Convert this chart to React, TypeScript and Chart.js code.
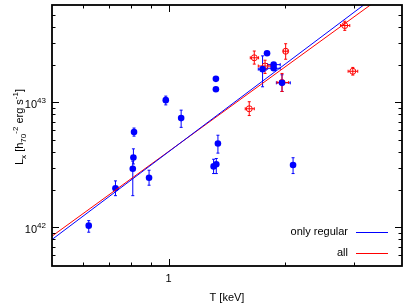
import { useEffect, useRef } from "react";
import { Chart, registerables } from "chart.js";

Chart.register(...registerables);

const FONT = '"Liberation Sans", Arial, Helvetica, sans-serif';

// "only regular" sample (blue)
const blueT = [0.622, 0.729, 0.814, 0.811, 0.808, 0.89, 0.983, 1.077, 1.324, 1.324, 1.34, 1.327, 1.306, 2.094, 1.794, 1.747, 1.866, 1.866, 1.961];
const blueTlo = [0.622, 0.72, 0.814, 0.811, 0.808, 0.89, 0.983, 1.077, 1.324, 1.324, 1.34, 1.327, 1.306, 2.07, 1.794, 1.703, 1.8, 1.8, 1.896];
const blueThi = [0.622, 0.74, 0.814, 0.811, 0.808, 0.89, 0.983, 1.077, 1.324, 1.324, 1.34, 1.327, 1.306, 2.12, 1.794, 1.786, 1.94, 1.94, 2.06];
const blueL = [1.03e42, 2.05e42, 5.78e42, 3.62e42, 2.94e42, 2.49e42, 1.04e43, 7.47e42, 1.54e43, 1.27e43, 4.68e42, 3.19e42, 3.07e42, 3.15e42, 2.47e43, 1.84e43, 2.0e43, 1.87e43, 1.43e43];
const blueLlo = [9.13e41, 1.79e42, 5.36e42, 3.21e42, 1.79e42, 2.17e42, 9.53e42, 6.3e42, 1.49e43, 1.23e43, 3.92e42, 2.69e42, 2.69e42, 2.69e42, 2.4e43, 1.33e43, 1.93e43, 1.8e43, 1.22e43];
const blueLhi = [1.13e42, 2.35e42, 6.22e42, 4.24e42, 3.38e42, 2.86e42, 1.12e43, 8.65e42, 1.59e43, 1.31e43, 5.45e42, 3.55e42, 3.5e42, 3.6e42, 2.54e43, 2.35e43, 2.07e43, 1.94e43, 1.66e43];

// other (red) objects
const redT = [1.663, 1.773, 2.004, 1.961, 1.614, 2.847, 2.986];
const redTlo = [1.624, 1.703, 1.98, 1.904, 1.576, 2.775, 2.904];
const redThi = [1.706, 1.829, 2.03, 2.04, 1.663, 2.933, 3.075];
const redL = [2.27e43, 1.95e43, 2.56e43, 1.44e43, 8.87e42, 4.11e43, 1.77e43];
const redLlo = [2.02e43, 1.7e43, 2.21e43, 1.22e43, 7.83e42, 3.76e43, 1.65e43];
const redLhi = [2.57e43, 2.17e43, 2.94e43, 1.7e43, 1.01e43, 4.45e43, 1.9e43];

// fitted relations (end points)
const fitT = [0.5, 4];
const regularFitL = [7.98e41, 1.02e44];
const allFitL = [8.49e41, 9.16e43];

// ticks
const xMajorTicks = [1];
const xMinorTicks = [0.6, 0.7, 0.8, 0.9, 2, 3];
const yMajorTicks = [1e42, 1e43];
const yMajorExp = ["42", "43"];
const yMinorTicks = [6e41, 7e41, 8e41, 9e41, 2e42, 3e42, 4e42, 5e42, 6e42, 7e42, 8e42, 9e42, 2e43, 3e43, 4e43, 5e43];

const legendLabels = ["only regular", "all"];
const legendColors = ["#0000ff", "#ff0000"];

function drawErrorBars(ctx: CanvasRenderingContext2D, xs: any, ys: any, T: number[], Tlo: number[], Thi: number[], L: number[], Llo: number[], Lhi: number[], color: string) {
  ctx.strokeStyle = color;
  ctx.lineWidth = 1;
  const cap = 1.5;
  for (let i = 0; i < T.length; i++) {
    const px = xs.getPixelForValue(T[i]);
    const py = ys.getPixelForValue(L[i]);
    const y1 = ys.getPixelForValue(Llo[i]);
    const y2 = ys.getPixelForValue(Lhi[i]);
    const x1 = xs.getPixelForValue(Tlo[i]);
    const x2 = xs.getPixelForValue(Thi[i]);
    ctx.beginPath();
    if (Math.abs(y1 - y2) > 0.5) {
      ctx.moveTo(px, y1); ctx.lineTo(px, y2);
      ctx.moveTo(px - cap, y1); ctx.lineTo(px + cap, y1);
      ctx.moveTo(px - cap, y2); ctx.lineTo(px + cap, y2);
    }
    if (Math.abs(x1 - x2) > 0.5) {
      ctx.moveTo(x1, py); ctx.lineTo(x2, py);
      ctx.moveTo(x1, py - cap); ctx.lineTo(x1, py + cap);
      ctx.moveTo(x2, py - cap); ctx.lineTo(x2, py + cap);
    }
    ctx.stroke();
  }
}

const decor = {
  id: "decor",
  beforeDatasetsDraw(chart: any) {
    const { ctx, chartArea: a } = chart;
    const xs = chart.scales.x, ys = chart.scales.y;
    ctx.save();
    ctx.beginPath();
    ctx.rect(a.left, a.top, a.right - a.left, a.bottom - a.top);
    ctx.clip();
    drawErrorBars(ctx, xs, ys, blueT, blueTlo, blueThi, blueL, blueLlo, blueLhi, "#0000ff");
    drawErrorBars(ctx, xs, ys, redT, redTlo, redThi, redL, redLlo, redLhi, "#ff0000");
    ctx.restore();
  },
  afterDraw(chart: any) {
    const { ctx, chartArea: a } = chart;
    const xs = chart.scales.x, ys = chart.scales.y;
    ctx.save();
    ctx.strokeStyle = "#000";
    ctx.fillStyle = "#000";
    // ticks
    ctx.lineWidth = 1;
    ctx.beginPath();
    const xt = (v: number, len: number) => {
      const p = Math.round(xs.getPixelForValue(v)) + 0.5;
      ctx.moveTo(p, a.bottom); ctx.lineTo(p, a.bottom - len);
      ctx.moveTo(p, a.top); ctx.lineTo(p, a.top + len);
    };
    const yt = (v: number, len: number) => {
      const p = Math.round(ys.getPixelForValue(v)) + 0.5;
      ctx.moveTo(a.left, p); ctx.lineTo(a.left + len, p);
      ctx.moveTo(a.right, p); ctx.lineTo(a.right - len, p);
    };
    xMajorTicks.forEach((v) => xt(v, 7));
    xMinorTicks.forEach((v) => xt(v, 3.5));
    yMajorTicks.forEach((v) => yt(v, 7));
    yMinorTicks.forEach((v) => yt(v, 3.5));
    ctx.stroke();
    // frame
    ctx.lineWidth = 1.8;
    ctx.strokeRect(a.left, a.top, a.right - a.left, a.bottom - a.top);

    // x tick labels
    ctx.font = `11px ${FONT}`;
    ctx.textAlign = "center";
    ctx.textBaseline = "alphabetic";
    xMajorTicks.forEach((v) => {
      ctx.fillText(String(v), xs.getPixelForValue(v), a.bottom + 16);
    });
    // y tick labels 10^n
    yMajorTicks.forEach((v, i) => {
      const p = ys.getPixelForValue(v);
      ctx.font = `8px ${FONT}`;
      ctx.textAlign = "right";
      const supW = ctx.measureText(yMajorExp[i]).width;
      ctx.fillText(yMajorExp[i], 46, p + 1);
      ctx.font = `11px ${FONT}`;
      ctx.fillText("10", 46 - supW, p + 6);
    });
    // x title
    ctx.font = `11px ${FONT}`;
    ctx.textAlign = "center";
    ctx.fillText("T [keV]", (a.left + a.right) / 2, 301);

    // y title with sub/superscripts
    const pieces: [string, number][] = [
      ["L", 0], ["x", 1], [" [h", 0], ["70", 1], ["-2", 2], [" erg s", 0], ["-1", 2], ["]", 0],
    ];
    const fontFor = (k: number) => (k === 0 ? `11px ${FONT}` : `8px ${FONT}`);
    let total = 0;
    pieces.forEach(([t, k]) => { ctx.font = fontFor(k); total += ctx.measureText(t).width; });
    ctx.save();
    ctx.translate(23, 127);
    ctx.rotate(-Math.PI / 2);
    ctx.textAlign = "left";
    let cx = -total / 2;
    pieces.forEach(([t, k]) => {
      ctx.font = fontFor(k);
      const dy = k === 1 ? 3 : k === 2 ? -5 : 0;
      ctx.fillText(t, cx, dy);
      cx += ctx.measureText(t).width;
    });
    ctx.restore();

    // legend
    ctx.font = `11px ${FONT}`;
    ctx.textAlign = "right";
    ctx.textBaseline = "middle";
    const ly = [232, 253];
    legendLabels.forEach((lab, i) => {
      ctx.fillStyle = "#000";
      ctx.fillText(lab, 348, ly[i]);
      ctx.strokeStyle = legendColors[i];
      ctx.lineWidth = 1;
      ctx.beginPath();
      ctx.moveTo(356, ly[i] + 0.5);
      ctx.lineTo(388, ly[i] + 0.5);
      ctx.stroke();
    });
    ctx.restore();
  },
};

export default function App() {
  const ref = useRef<HTMLCanvasElement>(null);
  useEffect(() => {
    const canvas = ref.current!;
    const chart = new Chart(canvas, {
      type: "scatter",
      data: {
        datasets: [
          {
            type: "line",
            label: "only regular",
            data: fitT.map((t, i) => ({ x: t, y: regularFitL[i] })),
            borderColor: "#0000ff",
            borderWidth: 1,
            pointRadius: 0,
            fill: false,
          },
          {
            type: "line",
            label: "all",
            data: fitT.map((t, i) => ({ x: t, y: allFitL[i] })),
            borderColor: "#ff0000",
            borderWidth: 1,
            pointRadius: 0,
            fill: false,
          },
          {
            label: "regular",
            data: blueT.map((t, i) => ({ x: t, y: blueL[i] })),
            pointStyle: "circle",
            pointRadius: 3.3,
            backgroundColor: "#0000ff",
            borderColor: "#0000ff",
            borderWidth: 0,
          },
          {
            label: "other",
            data: redT.map((t, i) => ({ x: t, y: redL[i] })),
            pointStyle: "circle",
            pointRadius: 3,
            backgroundColor: "rgba(0,0,0,0)",
            borderColor: "#ff0000",
            borderWidth: 1,
          },
        ],
      } as any,
      options: {
        responsive: false,
        animation: false,
        devicePixelRatio: 1,
        events: [],
        layout: { padding: { left: 52, right: 5, top: 3, bottom: 39 } },
        plugins: { legend: { display: false }, tooltip: { enabled: false } },
        scales: {
          x: { type: "logarithmic", min: 0.5, max: 4, display: false },
          y: { type: "logarithmic", min: 4.9e41, max: 6e43, display: false },
        },
      },
      plugins: [decor],
    });
    return () => chart.destroy();
  }, []);
  return (
    <div style={{ position: "fixed", left: 0, top: 0, width: 407, height: 305, background: "#fff" }}>
      <canvas ref={ref} width={407} height={305} style={{ display: "block", width: 407, height: 305 }} />
    </div>
  );
}
